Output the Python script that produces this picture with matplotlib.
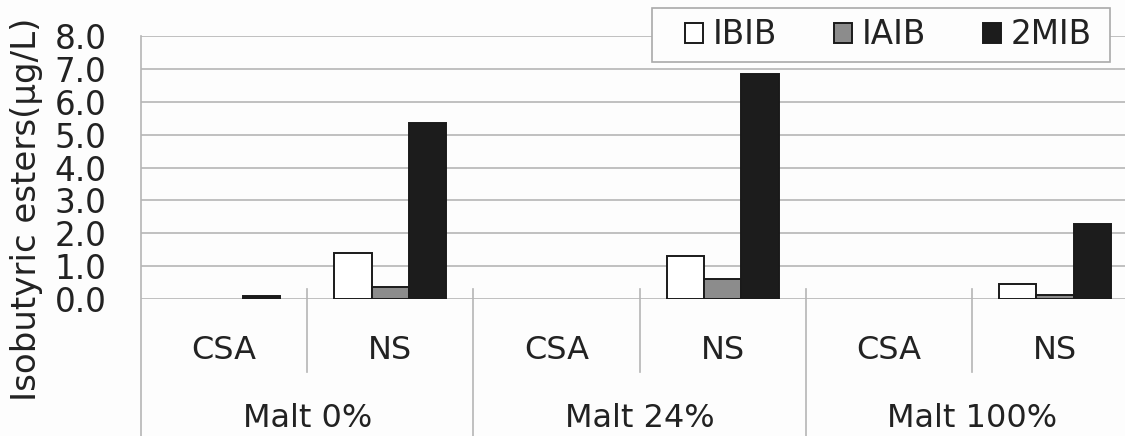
import matplotlib
matplotlib.use('Agg')
import matplotlib.pyplot as plt
import numpy as np
from matplotlib.patches import Patch, Rectangle

groups = ['Malt 0%', 'Malt 24%', 'Malt 100%']
subcats = ['CSA', 'NS', 'CSA', 'NS', 'CSA', 'NS']
series = ['IBIB', 'IAIB', '2MIB']
ibib = [0.0, 1.40, 0.0, 1.30, 0.0, 0.45]
iaib = [0.0, 0.37, 0.0, 0.60, 0.0, 0.12]
mib2 = [0.08, 5.35, 0.0, 6.85, 0.0, 2.27]
yticks = [0, 1, 2, 3, 4, 5, 6, 7, 8]
ylabel = 'Isobutyric esters(μg/L)'

colors = ['#ffffff', '#8c8c8c', '#1c1c1c']
textc = '#222222'
gridc = '#b5b5b5'
bg = '#fdfdfd'

W, H = 1125, 436
fig = plt.figure(figsize=(W / 100, H / 100), dpi=100)
fig.patch.set_facecolor(bg)
L, R, T, B = 141, 1138, 36, 299
ax = fig.add_axes([L / W, 1 - B / H, (R - L) / W, (B - T) / H])
ax.set_facecolor(bg)

x = np.arange(len(subcats))
w = 0.225
for i, (vals, c) in enumerate(zip([ibib, iaib, mib2], colors)):
    vals = np.array(vals)
    m = vals > 0
    ax.bar(x[m] + (i - 1) * w, vals[m], width=w, color=c, edgecolor='#1a1a1a',
           linewidth=1.4, zorder=3)

ax.set_xlim(-0.5, len(subcats) - 0.5)
ax.set_ylim(0, 8)
ax.set_yticks(yticks)
ax.set_yticklabels([f'{v:.1f}' for v in yticks], fontsize=23.5, color=textc)
ax.tick_params(axis='y', length=0, pad=25)
ax.set_xticks([])
for s in ax.spines.values():
    s.set_visible(False)
for v in yticks:
    ax.axhline(v, color=gridc, lw=1.2, zorder=1)

def ay(px):
    return (B - px) / (B - T)

tr = ax.get_xaxis_transform()
# left axis line
ax.plot([-0.5, -0.5], [1, ay(H)], transform=tr, color=gridc, lw=1.2, clip_on=False)
for xd in [0.5, 2.5, 4.5]:
    ax.plot([xd, xd], [ay(289), ay(372)], transform=tr, color=gridc, lw=1.2, clip_on=False)
for xd in [1.5, 3.5]:
    ax.plot([xd, xd], [ay(289), ay(H)], transform=tr, color=gridc, lw=1.2, clip_on=False)

for xi, s in zip(x, subcats):
    ax.text(xi, ay(350), s, transform=tr, ha='center', va='center', fontsize=23, color=textc)
for gi, g in enumerate(groups):
    ax.text(2 * gi + 0.5, ay(418), g, transform=tr, ha='center', va='center', fontsize=23, color=textc)

fig.text(27 / W, 1 - 209 / H, ylabel, rotation=90, ha='center', va='center', fontsize=24.5, color=textc)

# legend box
box = Rectangle((652 / W, 1 - 62 / H), 458 / W, 54 / H, transform=fig.transFigure,
                facecolor=bg, edgecolor='#aaaaaa', linewidth=1.2, zorder=4)
fig.patches.append(box)
handles = [Patch(facecolor=c, edgecolor='#1a1a1a', linewidth=1.4) for c in colors]
leg = fig.legend(handles, series, loc='center left', bbox_to_anchor=(685 / W, 1 - 35 / H),
                 ncol=3, fontsize=23.5, frameon=False,
                 handlelength=0.55, handleheight=0.55, handletextpad=0.3, columnspacing=1.75,
                 borderpad=0, borderaxespad=0)
leg.set_zorder(5)
for t in leg.get_texts():
    t.set_color(textc)

fig.savefig('out.png', dpi=100, facecolor=fig.get_facecolor())
